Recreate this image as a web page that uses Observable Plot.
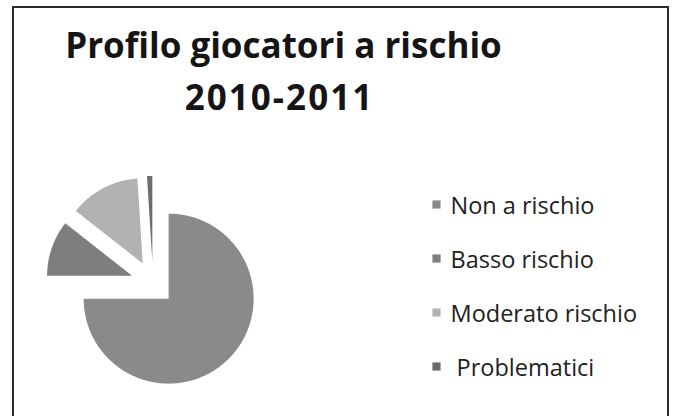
<!DOCTYPE html>
<html>
<head>
<meta charset="utf-8">
<script src="https://cdn.jsdelivr.net/npm/d3@7"></script>
<script src="https://cdn.jsdelivr.net/npm/@observablehq/plot@0.6"></script>
<style>
  html, body { margin: 0; padding: 0; background: #fff; overflow: hidden; }
  #wrap { position: relative; width: 676px; height: 416px; overflow: hidden; background: #fff; }
  #frame { position: absolute; left: 12px; top: 6px; width: 657px; height: 430px; border: 2px solid #2a2a2a; box-sizing: border-box; }
  .layer { position: absolute; left: 0; top: 0; }
  #legend text { white-space: pre; }
  .title { position: absolute; left: 0; width: 567px; text-align: center; font-family: "Open Sans", sans-serif; font-weight: bold; color: #151515; white-space: nowrap; }
</style>
</head>
<body>
<div id="wrap">
  <div id="frame"></div>
  <div id="pie" class="layer"></div>
  <div id="legend" class="layer"></div>
  <div class="title" id="t1"></div>
  <div class="title" id="t2"></div>
</div>
<script>
const titleLines = ["Profilo giocatori a rischio", "2010-2011"];
const categories = ["Non a rischio", "Basso rischio", "Moderato rischio", "Problematici"];
const legendLabels = ["Non a rischio", "Basso rischio", "Moderato rischio", " Problematici"];
const values = [75.0, 10.6, 13.4, 1.0];
const colors = ["#8a8a8a", "#7e7e7e", "#b2b2b2", "#6c6c6c"];
const explode = 0.26; // fraction of radius

// build slice polygons in unit-circle coordinates (clockwise from 12 o'clock)
const total = d3.sum(values);
const points = [];
let acc = 0;
categories.forEach((cat, i) => {
  const a0 = acc / total * 2 * Math.PI;
  acc += values[i];
  const a1 = acc / total * 2 * Math.PI;
  const m = (a0 + a1) / 2;
  const ox = explode * Math.sin(m), oy = explode * Math.cos(m);
  points.push({cat, x: ox, y: oy});
  const n = Math.max(4, Math.ceil((a1 - a0) / (Math.PI / 180)));
  for (let k = 0; k <= n; ++k) {
    const a = a0 + (a1 - a0) * k / n;
    points.push({cat, x: ox + Math.sin(a), y: oy + Math.cos(a)});
  }
  points.push({cat, x: ox, y: oy});
});

const cx = 152.5, cy = 282.5, r = 85;
const pie = Plot.plot({
  width: 676, height: 416,
  style: {background: "transparent", overflow: "visible"},
  x: {domain: [-1, 1], range: [cx - r, cx + r], axis: null},
  y: {domain: [-1, 1], range: [cy + r, cy - r], axis: null},
  color: {domain: categories, range: colors},
  marks: [
    Plot.line(points, {x: "x", y: "y", z: "cat", fill: "cat", stroke: "none", curve: "linear"})
  ]
});
document.getElementById("pie").appendChild(pie);

const legendData = categories.map((c, i) => ({cat: c, label: legendLabels[i]}));
const legend = Plot.plot({
  width: 676, height: 416,
  marginLeft: 436, marginRight: 0, marginTop: 0, marginBottom: 0,
  style: {background: "transparent", overflow: "visible", fontFamily: "'Open Sans', sans-serif"},
  y: {type: "point", domain: categories, range: [205.5, 367.5], padding: 0, axis: null},
  color: {domain: categories, range: colors},
  marks: [
    Plot.dot(legendData, {y: "cat", frameAnchor: "left", symbol: "square", r: 4.6, fill: "cat", stroke: "none", dy: -2}),
    Plot.text(legendData, {y: "cat", text: "label", frameAnchor: "left", textAnchor: "start", dx: 14, fontSize: 23.5, fill: "#222"})
  ]
});
document.getElementById("legend").appendChild(legend);

const t1 = document.getElementById("t1"), t2 = document.getElementById("t2");
t1.textContent = titleLines[0];
t2.textContent = titleLines[1];
t1.style.fontSize = "35px"; t1.style.top = "22.5px"; t1.style.lineHeight = "44px";
t2.style.fontSize = "35px"; t2.style.top = "74.5px"; t2.style.lineHeight = "44px";
t2.style.letterSpacing = "2px"; t2.style.left = "-4px";
</script>
</body>
</html>
